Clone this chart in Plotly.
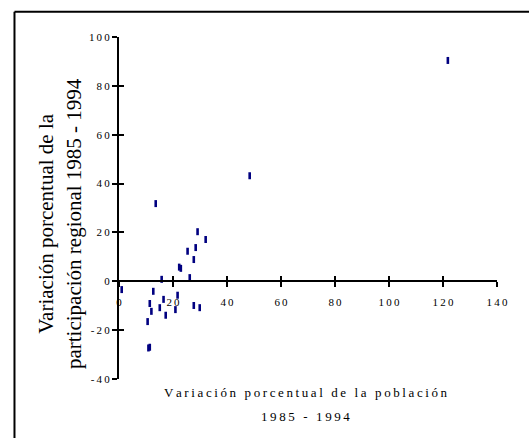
import plotly.graph_objects as go

# Variación porcentual de la población vs. participación regional, 1985 - 1994
pob_var = [1.0, 13.6, 15.8, 12.7, 11.4, 12.0, 10.6, 10.9, 11.4, 15.1, 16.5, 17.3,
           20.9, 21.7, 22.3, 22.9, 26.2, 25.4, 27.7, 28.4, 29.1, 32.1, 27.7, 29.9,
           48.4, 121.8]
part_var = [-3.4, 31.8, 0.8, -4.1, -9.1, -12.3, -16.5, -27.3, -27.0, -10.8, -7.4, -13.9,
            -11.6, -5.7, 5.8, 5.3, 1.5, 12.3, 8.9, 13.8, 20.3, 17.1, -9.9, -10.8,
            43.2, 90.4]

x_ticks = [0, 20, 40, 60, 80, 100, 120, 140]
y_ticks = [-40, -20, 0, 20, 40, 60, 80, 100]

THIN = "\u2009"
SERIF = "Liberation Serif, Times New Roman, serif"
NAVY = "#000080"


def spaced(s):
    return THIN.join(s)


fig = go.Figure(go.Scatter(
    x=pob_var, y=part_var, mode="markers",
    marker=dict(symbol="line-ns", size=5, line=dict(width=2.6, color=NAVY)),
    showlegend=False, hoverinfo="skip",
))
# invisible trace so the overlaid axes (ticks on the other side) get drawn
fig.add_trace(go.Scatter(x=[0], y=[0], xaxis="x2", yaxis="y2", mode="markers",
                         marker=dict(opacity=0), showlegend=False, hoverinfo="skip"))

y0_pos = (0 - y_ticks[0]) / (y_ticks[-1] - y_ticks[0])
tickfont = dict(family=SERIF, size=11, color="#000000")

fig.update_layout(
    width=529, height=438,
    margin=dict(l=119, r=32, t=37, b=59),
    plot_bgcolor="white", paper_bgcolor="white",
    hovermode=False, dragmode=False,
    xaxis=dict(range=[0, 140], anchor="free", position=y0_pos,
               tickvals=x_ticks, ticktext=[spaced(str(v)) for v in x_ticks],
               ticks="outside", ticklen=5, tickwidth=2, tickcolor="black",
               ticklabelstandoff=6,
               showline=True, linewidth=2, linecolor="black",
               showgrid=False, zeroline=False, tickfont=tickfont, fixedrange=True),
    yaxis=dict(range=[-40, 100],
               tickvals=y_ticks, ticktext=[spaced(str(v)) for v in y_ticks],
               ticks="outside", ticklen=5, tickwidth=2, tickcolor="black",
               showline=True, linewidth=2, linecolor="black",
               showgrid=False, zeroline=False, tickfont=tickfont, fixedrange=True),
    xaxis2=dict(range=[0, 140], overlaying="x", anchor="free", position=y0_pos,
                tickvals=x_ticks, ticks="inside", ticklen=5, tickwidth=2,
                tickcolor="black", showticklabels=False, showline=False,
                showgrid=False, zeroline=False, fixedrange=True),
    yaxis2=dict(range=[-40, 100], overlaying="y", anchor="x2",
                tickvals=y_ticks, ticks="inside", ticklen=5, tickwidth=2,
                tickcolor="black", showticklabels=False, showline=False,
                showgrid=False, zeroline=False, fixedrange=True),
)

fig.add_annotation(
    text="Variación porcentual de la<br>participación regional 1985 - 1994",
    xref="paper", yref="paper", x=-0.157, y=0.455, textangle=-90,
    xanchor="center", yanchor="middle",
    showarrow=False, font=dict(family=SERIF, size=21, color="black"),
)
fig.add_annotation(
    text=spaced("Variación porcentual de la población"),
    xref="paper", yref="paper", x=0.4947, y=-0.039,
    xanchor="center", yanchor="middle",
    showarrow=False, font=dict(family=SERIF, size=13, color="black"),
)
fig.add_annotation(
    text=spaced("1985 - 1994"),
    xref="paper", yref="paper", x=0.4947, y=-0.1105,
    xanchor="center", yanchor="middle",
    showarrow=False, font=dict(family=SERIF, size=13, color="black"),
)

# outer frame: only the left and top edges fall inside the picture
frame = dict(type="line", xref="paper", yref="paper",
             line=dict(color="black", width=2), layer="below")
fig.add_shape(x0=-0.2765, x1=-0.2765, y0=-0.3, y1=1.0737, **frame)
fig.add_shape(x0=-0.2765, x1=1.2, y0=1.0737, y1=1.0737, **frame)

# drop the default body margin so the figure fills the window without scrollbars
fig.write_html(
    "out.html",
    config={"displayModeBar": False, "staticPlot": True},
    post_script=(
        "document.documentElement.style.overflow='hidden';"
        "document.body.style.margin='0';"
        "document.body.style.overflow='hidden';"
    ),
)
